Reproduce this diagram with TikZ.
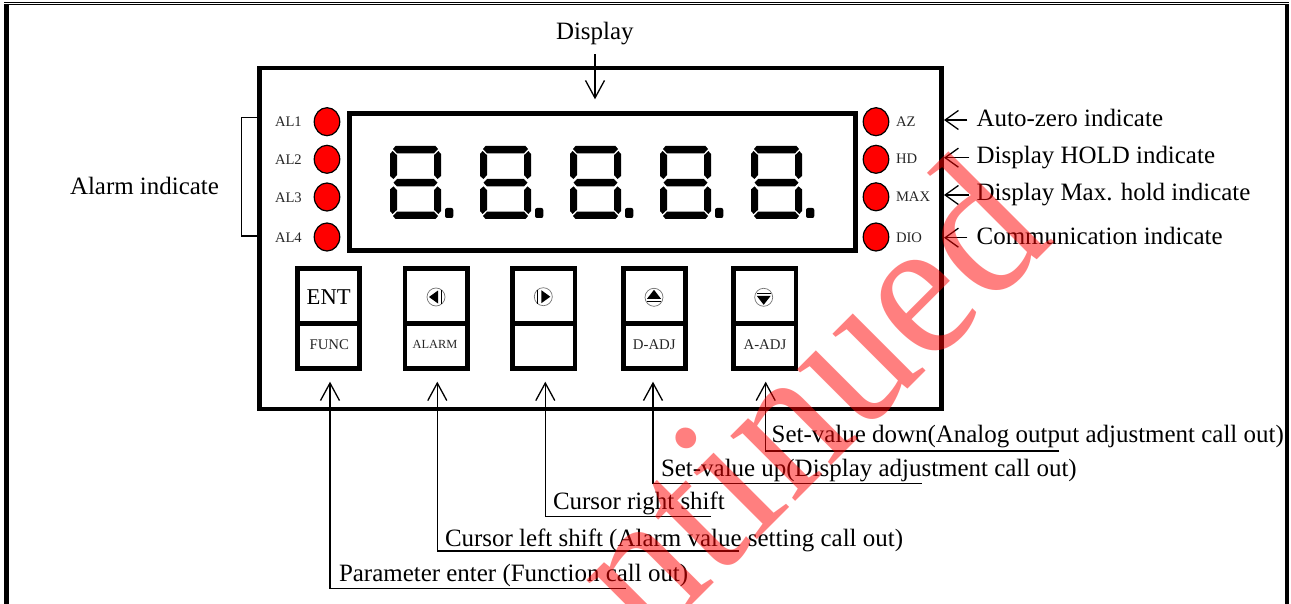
\documentclass[tikz,border=0pt]{standalone}
\usepackage{fontspec}
\setmainfont{Liberation Serif}
\usetikzlibrary{arrows.meta,shapes.geometric}
\tikzset{
  x=1pt,y=-1pt,
  panelbox/.style={draw,line width=4.7pt,inner sep=0,outer sep=0},
  led/.style={draw,ellipse,fill=red,line width=1.2pt,minimum width=25.5pt,minimum height=28pt,inner sep=0,outer sep=0},
  lbl/.style={font=\fontsize{24.95}{28}\selectfont,anchor=base west,inner sep=0,outer sep=0},
  small/.style={font=\fontsize{14.6}{16}\selectfont,anchor=base west,inner sep=0,outer sep=0,text=black!85},
  keylbl/.style={font=\fontsize{14.8}{16}\selectfont,anchor=base,inner sep=0,outer sep=0,text=black!85},
  callout/.style={line width=1.3pt,-{Straight Barb[length=17.5pt,width=19pt,line width=1.3pt]}},
  sidecall/.style={line width=1.3pt,-{Straight Barb[length=13.3pt,width=19pt,line width=1.3pt]}},
  iconring/.style={draw=black!55,line width=.7pt,circle,minimum size=18pt,inner sep=0,outer sep=0},
}
\newcommand{\sevenseg}[1]{%
\begin{scope}[shift={(#1,146)}]
\fill[black] (5.5,0)--(45.5,0)--(48,3)--(44,7.3)--(7,7.3)--(3,3)--cycle;
\fill[black] (0,8)--(2.6,5)--(7,9.2)--(7,29)--(3.5,33)--(0,30)--cycle;
\fill[black] (51,8)--(48.4,5)--(44,9.2)--(44,29)--(47.5,33)--(51,30)--cycle;
\fill[black] (7,33)--(44,33)--(47.5,36.7)--(44,40.4)--(7,40.4)--(3.5,36.7)--cycle;
\fill[black] (0,43.4)--(3.5,40.4)--(7,44.2)--(7,63.8)--(2.6,68)--(0,65)--cycle;
\fill[black] (51,43.4)--(47.5,40.4)--(44,44.2)--(44,63.8)--(48.4,68)--(51,65)--cycle;
\fill[black] (3,70)--(7,65.7)--(44,65.7)--(48,70)--(45.5,73)--(5.5,73)--cycle;
\fill[black,rounded corners=2pt] (55,62) rectangle (63.3,72);
\end{scope}}
\newcommand{\keybox}[2]{%
\node[panelbox,minimum width=62.3pt,minimum height=100pt] (#1) at (#2,318.3) {};
\draw[line width=4.7pt] (#1.west |- 0,323.7) -- (#1.east |- 0,323.7);}
\begin{document}
\begin{tikzpicture}
\path[use as bounding box] (0,0) rectangle (1291,604);
% page frame
\fill (4.3,4) rectangle (6.7,604);
\fill (7.4,4) rectangle (9,604);
\fill (4.3,1.8) rectangle (1289,2.9);
\fill (7.4,4) rectangle (1289,5.3);
\fill (1285,4) rectangle (1289,604);
% panel
\node[panelbox,minimum width=682.3pt,minimum height=341pt] (panel) at (600.65,238.5) {};
\node[panelbox,minimum width=505.7pt,minimum height=137.2pt] (display) at (602.65,181.9) {};
\sevenseg{390}
\sevenseg{480}
\sevenseg{570}
\sevenseg{660}
\sevenseg{751}
% LEDs
\node[led] (l1) at (327,121.7) {};
\node[led] (l2) at (327,159.3) {};
\node[led] (l3) at (327,197) {};
\node[led] (l4) at (327,237) {};
\node[led] (r1) at (876,121.7) {};
\node[led] (r2) at (876,159.3) {};
\node[led] (r3) at (876,196.8) {};
\node[led] (r4) at (876,237) {};
\node[small] (tl1) at (275,127) {AL1};
\node[small] (tl2) at (275,164.5) {AL2};
\node[small] (tl3) at (275,202.5) {AL3};
\node[small] (tl4) at (275,242.5) {AL4};
\node[small] (tr1) at (896,127) {AZ};
\node[small] (tr2) at (896,164) {HD};
\node[small] (tr3) at (896,202) {MAX};
\node[small] (tr4) at (896,242.5) {DIO};
% keys
\keybox{k1}{328.5}
\keybox{k2}{436.2}
\keybox{k3}{543.8}
\keybox{k4}{654.4}
\keybox{k5}{764.8}
\node[font=\fontsize{22.6}{24}\selectfont,anchor=base,inner sep=0] (ent) at (328.7,304.5) {ENT};
\node[keylbl] (func) at (329.3,349) {FUNC};
\node[keylbl,font=\fontsize{12.4}{14}\selectfont] (alarm) at (435,348) {ALARM};
\node[keylbl] (dadj) at (654.3,349) {D-ADJ};
\node[keylbl] (aadj) at (765,349) {A-ADJ};
% key icons
\node[iconring] (i1) at (436,297) {};
\fill (429,297)--(438,290.5)--(438,303.5)--cycle;
\fill (441,290) rectangle (442,304);
\node[iconring] (i2) at (543.3,296.7) {};
\fill (550.3,296.7)--(541.3,290.2)--(541.3,303.2)--cycle;
\fill (537.3,289.7) rectangle (538.3,303.7);
\node[iconring] (i3) at (654,297.3) {};
\fill (654,289.8)--(647,298.8)--(661,298.8)--cycle;
\fill (647,300.7) rectangle (661,302);
\node[iconring] (i4) at (763.7,297.3) {};
\fill (763.7,304.8)--(756.7,295.8)--(770.7,295.8)--cycle;
\fill (756.7,292.6) rectangle (770.7,293.9);
% alarm bracket
\coordinate (bt) at (257.5,117.7);
\coordinate (bb) at (257.5,236);
\draw[line width=1.3pt] (bt) -- (241.7,117.7) -- (241.7,236) -- (bb);
% labels
\node[lbl] (alarmind) at (70,194.5) {Alarm indicate};
\node[lbl] (disp) at (556,39.8) {Display};
\node[lbl] (t1) at (976.7,126.2) {Auto-zero indicate};
\node[lbl] (t2) at (976.7,163.2) {Display HOLD indicate};
\node[lbl] (t3) at (976.7,200.5) {Display Max. hold indicate};
\node[lbl] (t4) at (976.7,244.8) {Communication indicate};
\node[lbl] (c1) at (339,581.2) {Parameter enter (Function call out)};
\node[lbl] (c2) at (445,546.2) {Cursor left shift (Alarm value setting call out)};
\node[lbl] (c3) at (553,509.5) {Cursor right shift};
\node[lbl] (c4) at (661,476.2) {Set-value up(Display adjustment call out)};
\node[lbl] (c5) at (771.7,442.2) {Set-value down(Analog output adjustment call out)};
% connectors
\coordinate (dt) at (595,54.3);
\coordinate (dh) at (595,99.3);
\draw[callout] (dt) -- (dh);
\foreach \y/\t [count=\i] in {120/967.3,157.7/969.3,195/969.3,237.7/967.3} {
  \coordinate (ra\i) at (\t,\y);
  \coordinate (rb\i) at (944,\y);
  \draw[sidecall] (ra\i) -- (rb\i);
}
\foreach \x/\y/\e [count=\i] in {330/588.5/625.7,437.3/551/739,545.3/516.7/711,653/483.7/921.7,765.7/451/1059.3} {
  \coordinate (ua\i) at (\e,\y);
  \coordinate (uc\i) at (\x,\y);
  \coordinate (ub\i) at (\x,381.7);
  \draw[callout] (ua\i) -- (uc\i) -- (ub\i);
}
% watermark
\begin{scope}
\clip (0,0) rectangle (1291,604);
\node[font=\fontsize{200}{200}\selectfont,text=red,text opacity=.5,rotate=45,anchor=base east,inner sep=0,outer sep=0] (wm) at (1056,241) {\scalebox{.96}[1]{ntinued}};
\end{scope}
\end{tikzpicture}
\end{document}
